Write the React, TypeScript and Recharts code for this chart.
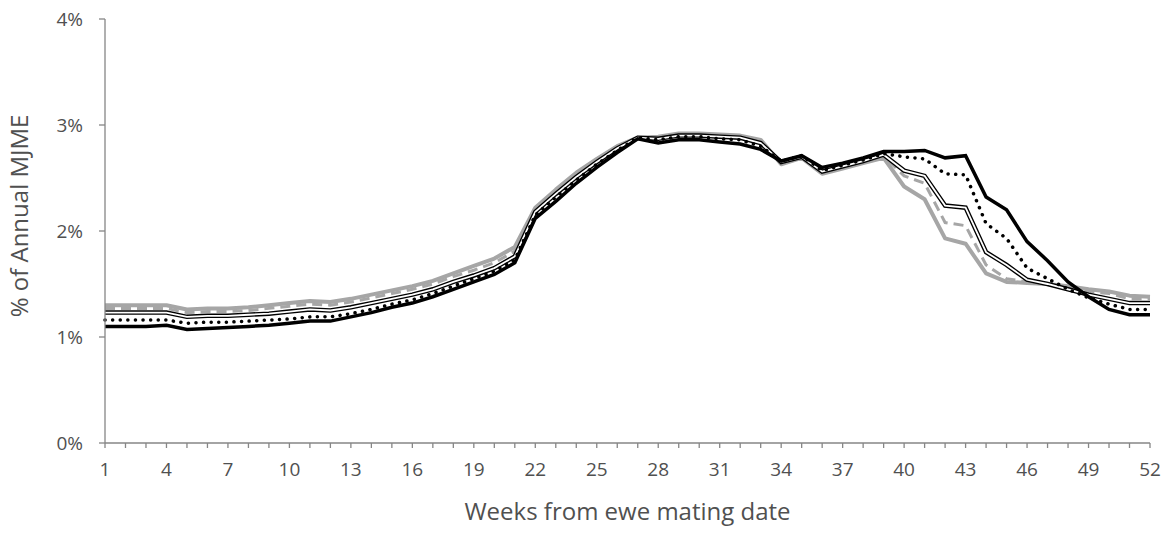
import React from "react";
import { LineChart, Line, XAxis, YAxis } from "recharts";

const weeks: number[] = Array.from({ length: 52 }, (_, i) => i + 1);

const seriesGreySolid: number[] = [
  1.30, 1.30, 1.30, 1.30, 1.26, 1.27, 1.27, 1.28, 1.30, 1.32,
  1.34, 1.33, 1.36, 1.40, 1.44, 1.48, 1.53, 1.60, 1.67, 1.74,
  1.85, 2.22, 2.39, 2.55, 2.68, 2.80, 2.88, 2.89, 2.92, 2.92,
  2.91, 2.90, 2.86, 2.63, 2.69, 2.54, 2.59, 2.64, 2.69, 2.42,
  2.30, 1.93, 1.88, 1.60, 1.52, 1.51, 1.50, 1.48, 1.45, 1.43,
  1.39, 1.38,
];

const seriesGreyDashed: number[] = [
  1.27, 1.27, 1.27, 1.27, 1.23, 1.24, 1.24, 1.25, 1.27, 1.29,
  1.31, 1.30, 1.33, 1.37, 1.41, 1.45, 1.50, 1.57, 1.63, 1.70,
  1.81, 2.20, 2.37, 2.53, 2.67, 2.79, 2.88, 2.88, 2.91, 2.91,
  2.90, 2.89, 2.85, 2.64, 2.70, 2.55, 2.60, 2.65, 2.71, 2.52,
  2.45, 2.08, 2.05, 1.68, 1.55, 1.52, 1.50, 1.47, 1.43, 1.41,
  1.36, 1.36,
];

const seriesDouble: number[] = [
  1.23, 1.23, 1.23, 1.23, 1.19, 1.20, 1.20, 1.21, 1.22, 1.24,
  1.26, 1.25, 1.28, 1.32, 1.36, 1.40, 1.45, 1.52, 1.58, 1.65,
  1.76, 2.18, 2.35, 2.51, 2.65, 2.78, 2.88, 2.87, 2.90, 2.90,
  2.89, 2.88, 2.83, 2.65, 2.70, 2.56, 2.61, 2.66, 2.72, 2.57,
  2.52, 2.24, 2.22, 1.80, 1.68, 1.54, 1.50, 1.45, 1.40, 1.36,
  1.32, 1.32,
];

const seriesDotted: number[] = [
  1.16, 1.16, 1.16, 1.16, 1.13, 1.14, 1.14, 1.15, 1.16, 1.17,
  1.19, 1.19, 1.22, 1.26, 1.31, 1.35, 1.41, 1.48, 1.55, 1.62,
  1.73, 2.15, 2.32, 2.48, 2.63, 2.76, 2.88, 2.86, 2.89, 2.89,
  2.87, 2.86, 2.80, 2.66, 2.71, 2.57, 2.62, 2.67, 2.73, 2.70,
  2.68, 2.54, 2.53, 2.07, 1.93, 1.65, 1.55, 1.45, 1.37, 1.31,
  1.26, 1.26,
];

const seriesBlackSolid: number[] = [
  1.10, 1.10, 1.10, 1.11, 1.07, 1.08, 1.09, 1.10, 1.11, 1.13,
  1.15, 1.15, 1.19, 1.23, 1.28, 1.32, 1.38, 1.45, 1.52, 1.59,
  1.70, 2.12, 2.28, 2.45, 2.60, 2.74, 2.87, 2.83, 2.86, 2.86,
  2.84, 2.82, 2.77, 2.66, 2.71, 2.60, 2.64, 2.69, 2.75, 2.75,
  2.76, 2.69, 2.71, 2.32, 2.20, 1.90, 1.72, 1.52, 1.38, 1.26,
  1.21, 1.21,
];

const yTicks: number[] = [0, 1, 2, 3, 4];

const data = weeks.map((w, i) => ({
  week: w,
  a: seriesGreySolid[i],
  b: seriesGreyDashed[i],
  c: seriesDouble[i],
  d: seriesDotted[i],
  e: seriesBlackSolid[i],
}));

const FONT = "'Open Sans', 'Noto Sans', sans-serif";
const AXIS = "#868686";
const TEXT = "#505050";

const YTitle = (props: any) => {
  const vb = props.viewBox || { x: 0, y: 0, width: 0, height: 0 };
  const cx = vb.x + 18;
  const cy = vb.y + vb.height / 2 - 15;
  return (
    <text
      x={cx}
      y={cy}
      transform={`rotate(-90 ${cx} ${cy})`}
      textAnchor="middle"
      dominantBaseline="central"
      fill={TEXT}
      fontSize={24}
      fontFamily={FONT}
    >
      % of Annual MJME
    </text>
  );
};

export default function App() {
  return (
    <div style={{ width: 1173, height: 536, margin: "-8px 0 0 -8px", background: "#fff" }}>
      <LineChart
        width={1173}
        height={536}
        data={data}
        margin={{ top: 19, right: 23, bottom: 0, left: 0 }}
        style={{ fontFamily: FONT }}
      >
        <XAxis
          dataKey="week"
          type="number"
          domain={[1, 52]}
          ticks={weeks}
          interval={0}
          tickFormatter={(v: number) => ((v - 1) % 3 === 0 ? String(v) : "")}
          height={93}
          tickSize={5}
          tickMargin={15}
          axisLine={{ stroke: AXIS, strokeWidth: 1.3 }}
          tickLine={{ stroke: AXIS, strokeWidth: 1.3 }}
          tick={{ fill: TEXT, fontSize: 19, fontFamily: FONT }}
          label={{
            value: "Weeks from ewe mating date",
            position: "insideBottom",
            offset: 16,
            fill: TEXT,
            fontSize: 24,
            fontFamily: FONT,
          }}
        />
        <YAxis
          type="number"
          domain={[0, 4]}
          ticks={yTicks}
          interval={0}
          width={105}
          tickSize={6}
          tickMargin={16}
          tickFormatter={(v: number) => `${v}%`}
          axisLine={{ stroke: AXIS, strokeWidth: 1.3 }}
          tickLine={{ stroke: AXIS, strokeWidth: 1.3 }}
          tick={{ fill: TEXT, fontSize: 19, fontFamily: FONT }}
          label={{ content: YTitle }}
        />
        <Line
          dataKey="a"
          stroke="#a6a6a6"
          strokeWidth={4}
          dot={false}
          activeDot={false}
          isAnimationActive={false}
          strokeLinejoin="round"
        />
        <Line
          dataKey="b"
          stroke="#a6a6a6"
          strokeWidth={3}
          strokeDasharray="10 6"
          dot={false}
          activeDot={false}
          isAnimationActive={false}
        />
        <Line
          dataKey="c"
          stroke="#000"
          strokeWidth={4.5}
          dot={false}
          activeDot={false}
          isAnimationActive={false}
        />
        <Line
          dataKey="c"
          stroke="#fff"
          strokeWidth={1.8}
          dot={false}
          activeDot={false}
          isAnimationActive={false}
        />
        <Line
          dataKey="d"
          stroke="#000"
          strokeWidth={3.5}
          strokeDasharray="0.1 7.5"
          strokeLinecap="round"
          dot={false}
          activeDot={false}
          isAnimationActive={false}
        />
        <Line
          dataKey="e"
          stroke="#000"
          strokeWidth={3.5}
          dot={false}
          activeDot={false}
          isAnimationActive={false}
        />
      </LineChart>
    </div>
  );
}
